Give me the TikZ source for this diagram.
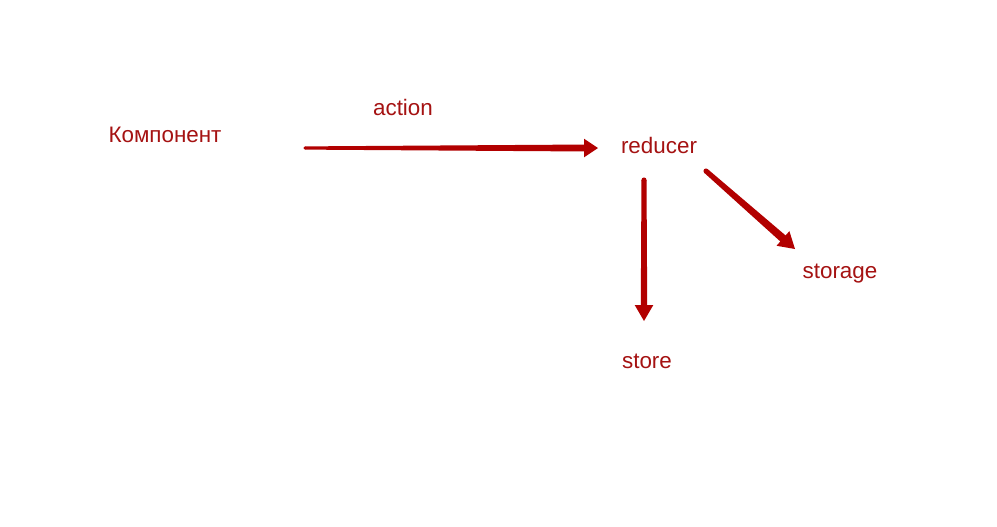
\documentclass[tikz,border=0pt]{standalone}
\usepackage{fontspec}
\setmainfont{Liberation Sans}
\usetikzlibrary{calc}
\definecolor{txtred}{RGB}{165,18,18}
\definecolor{arrred}{RGB}{178,0,0}
% #1 start, #2 tip, #3 start half width, #4 base half width, #5 head half width, #6 head length
\newcommand\taperarrow[6]{%
  \path ($(#2)!#6!(#1)$) coordinate (tb);
  \fill[arrred] ($(#1)!#3!90:(#2)$) -- ($(tb)!#4!-90:(#1)$) -- ($(tb)!#5!-90:(#1)$) -- (#2)
     -- ($(tb)!#5!90:(#1)$) -- ($(tb)!#4!90:(#1)$) -- ($(#1)!#3!-90:(#2)$) -- cycle;
  \fill[arrred] (#1) circle (#3);
}
\begin{document}
\begin{tikzpicture}[x=0.75pt,y=-0.75pt,
  lbl/.style={text=txtred,font=\fontsize{16.8}{20}\selectfont,inner sep=0pt,anchor=base}]
\useasboundingbox (0,0) rectangle (997,526);
\fill[white] (0,0) rectangle (997,526);
\node[lbl] (comp) at (165,142) {Компонент};
\node[lbl] (action) at (403,115) {action};
\node[lbl] (reducer) at (659,153) {reducer};
\node[lbl] (storage) at (840,278) {storage};
\node[lbl] (store) at (647,368) {store};
\coordinate (h1) at (305,148);
\coordinate (h2) at (598,148);
\coordinate (v1) at (644,180);
\coordinate (v2) at (644,321);
\coordinate (d1) at (706,171);
\coordinate (d2) at (795,249);
\taperarrow{h1}{h2}{1.2pt}{2.6pt}{7pt}{10.5pt}
\taperarrow{v1}{v2}{1.9pt}{2.4pt}{7pt}{12pt}
\taperarrow{d1}{d2}{1.9pt}{3pt}{7.3pt}{12pt}
\end{tikzpicture}
\end{document}
